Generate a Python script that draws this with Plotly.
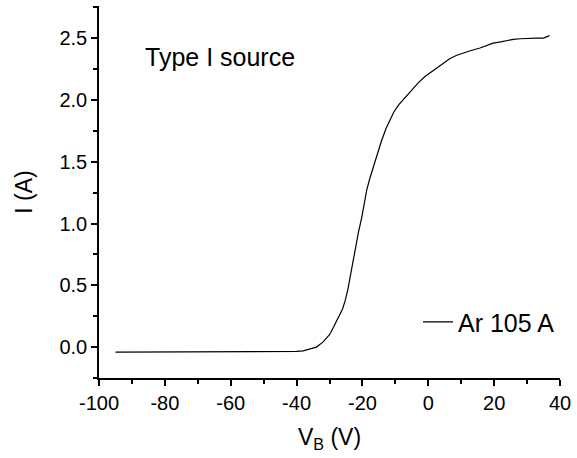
import plotly.graph_objects as go

# Data
vb = [-95, -90, -80, -70, -60, -50, -45, -42, -40, -38, -36, -34, -32, -30,
      -28.8, -27, -26, -25.2, -24.4, -23.5, -22.3, -21.2, -20.2, -19.4, -18.7,
      -17.7, -16.7, -15.5, -14.2, -12.8, -11.6, -10.5, -9, -7, -5, -3, -1, 0.5,
      2, 3.5, 5, 6.6, 8.5, 10.6, 13, 15.7, 18, 19.7, 22, 25.8, 28, 30.9, 33,
      35, 36.8]
current = [-0.04, -0.04, -0.04, -0.04, -0.04, -0.04, -0.04, -0.04, -0.035,
           -0.03, -0.015, 0.0, 0.04, 0.1, 0.16, 0.25, 0.31, 0.38, 0.47, 0.6,
           0.78, 0.93, 1.05, 1.17, 1.27, 1.37, 1.46, 1.57, 1.67, 1.77, 1.84,
           1.9, 1.96, 2.02, 2.08, 2.14, 2.19, 2.22, 2.25, 2.28, 2.305, 2.335,
           2.36, 2.38, 2.40, 2.42, 2.44, 2.46, 2.47, 2.49, 2.495, 2.50, 2.50,
           2.50, 2.52]
series_name = "Ar 105 A"
x_ticks = [-100, -80, -60, -40, -20, 0, 20, 40]
x_tick_labels = ["-100", "-80", "-60", "-40", "-20", "0", "20", "40"]
y_ticks = [0.0, 0.5, 1.0, 1.5, 2.0, 2.5]
y_tick_labels = ["0.0", "0.5", "1.0", "1.5", "2.0", "2.5"]

FONT = "Liberation Sans, Arial, sans-serif"

fig = go.Figure()
fig.add_trace(go.Scatter(x=vb, y=current, mode="lines", name=series_name,
                         line=dict(color="black", width=1.2)))

axis_common = dict(showline=True, linecolor="black", linewidth=1.5,
                   ticks="outside", ticklen=6, tickwidth=1.5, tickcolor="black",
                   showgrid=False, zeroline=False, mirror=False,
                   automargin=False,
                   tickfont=dict(family=FONT, size=20, color="black"))

fig.update_xaxes(range=[-100, 40], tickvals=x_ticks, ticktext=x_tick_labels,
                 minor=dict(dtick=10, ticks="outside", ticklen=4, tickwidth=1.5,
                            tickcolor="black", showgrid=False),
                 title=dict(text="V<sub>B</sub> (V)", standoff=16,
                            font=dict(family=FONT, size=23, color="black")),
                 **axis_common)
fig.update_yaxes(range=[-0.25, 2.76], tickvals=y_ticks, ticktext=y_tick_labels,
                 minor=dict(dtick=0.25, tick0=0, ticks="outside", ticklen=4,
                            tickwidth=1.5, tickcolor="black", showgrid=False),
                 title=dict(text="I (A)", standoff=20,
                            font=dict(family=FONT, size=23, color="black")),
                 **axis_common)

fig.add_annotation(text="Type I source", xref="paper", yref="paper",
                   x=0.095, y=0.863, xanchor="left", yanchor="middle",
                   showarrow=False,
                   font=dict(family=FONT, size=25, color="black"))

fig.update_layout(
    width=577, height=458,
    margin=dict(l=99, r=17, t=6, b=80),
    paper_bgcolor="white", plot_bgcolor="white",
    showlegend=True,
    legend=dict(x=1.0, y=0.15, xanchor="right", yanchor="middle",
                bgcolor="rgba(0,0,0,0)", itemwidth=30,
                font=dict(family=FONT, size=25, color="black")),
)

fig.write_html("out.html",
               config={"displayModeBar": False},
               post_script="document.body.style.margin='0';"
                           "document.body.style.overflow='hidden';")
